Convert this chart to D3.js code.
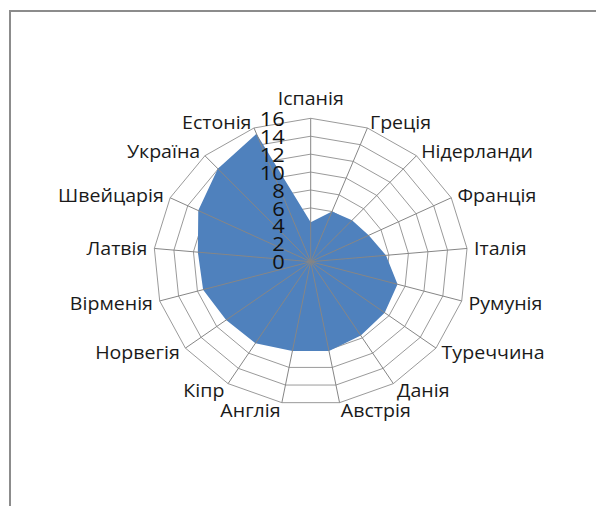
<!DOCTYPE html>
<html><head><meta charset="utf-8">
<script src="https://cdn.jsdelivr.net/npm/d3@7/dist/d3.min.js"></script>
<style>html,body{margin:0;padding:0;background:#fff;}svg{display:block;}</style>
</head><body>
<svg id="chart" width="596" height="506"></svg>
<script>
const categories = ["Іспанія","Греція","Нідерланди","Франція","Італія","Румунія","Туреччина","Данія","Австрія","Англія","Кіпр","Норвегія","Вірменія","Латвія","Швейцарія","Україна","Естонія"];
const values = [4.4, 6, 6.25, 6.6, 7.7, 9.2, 9.45, 9.7, 10.15, 10.15, 10.7, 10.8, 11.4, 11.55, 12.8, 14.05, 15.3];
const tickValues = [0, 2, 4, 6, 8, 10, 12, 14, 16];

const svg = d3.select("#chart");
const cx = 310.7, cy = 261.7;
const RX = 157, RY = 143.4;
const textStretch = 1.12;

const rx = d3.scaleLinear().domain([0, 16]).range([0, RX]);
const ry = d3.scaleLinear().domain([0, 16]).range([0, RY]);
const ang = d3.scaleLinear().domain([0, categories.length]).range([0, 2 * Math.PI]);

const px = (i, v) => cx + rx(v) * Math.sin(ang(i));
const py = (i, v) => cy - ry(v) * Math.cos(ang(i));

// frame
svg.append("line").attr("x1", 10).attr("y1", 11).attr("x2", 596).attr("y2", 11)
  .attr("stroke", "#8c8c8c").attr("stroke-width", 2);
svg.append("line").attr("x1", 10).attr("y1", 10).attr("x2", 10).attr("y2", 506)
  .attr("stroke", "#8c8c8c").attr("stroke-width", 2);

const idx = d3.range(categories.length);
const line = d3.line().curve(d3.curveLinearClosed);

// rings
svg.append("g").selectAll("path").data(tickValues.slice(1)).join("path")
  .attr("d", t => line(idx.map(i => [px(i, t), py(i, t)])))
  .attr("fill", "none").attr("stroke", "#9a9a9a").attr("stroke-width", 1);

// data polygon
svg.append("path")
  .attr("d", line(idx.map(i => [px(i, values[i]), py(i, values[i])])))
  .attr("fill", "#4f81bd").attr("stroke", "none");

// spokes
svg.append("g").selectAll("line").data(idx).join("line")
  .attr("x1", cx).attr("y1", cy)
  .attr("x2", i => px(i, 16)).attr("y2", i => py(i, 16))
  .attr("stroke", "#868686").attr("stroke-width", 1);

// tick labels
svg.append("g").selectAll("text").data(tickValues).join("text")
  .attr("transform", t => `translate(${cx - 26},${cy - ry(t)}) scale(1.095,1)`)
  .attr("text-anchor", "end").attr("dominant-baseline", "central")
  .style("font-family", "'Open Sans', sans-serif").style("font-size", "20px")
  .attr("fill", "#111").text(t => t);

// category labels
const pad = 7;
svg.append("g").selectAll("text").data(idx).join("text")
  .attr("transform", i => {
    const s = Math.sin(ang(i)), c = Math.cos(ang(i));
    let x = px(i, 16) + pad * s, y = py(i, 16) - pad * c;
    if (Math.abs(s) < 0.1) y -= 13 * Math.sign(c);
    return `translate(${x},${y}) scale(${textStretch},1)`;
  })
  .attr("text-anchor", i => { const s = Math.sin(ang(i)); return Math.abs(s) < 0.1 ? "middle" : (s > 0 ? "start" : "end"); })
  .attr("dominant-baseline", "central")
  .style("font-family", "'Open Sans', sans-serif").style("font-size", "17.5px")
  .attr("fill", "#1a1a1a").text(i => categories[i]);
</script>
</body></html>
